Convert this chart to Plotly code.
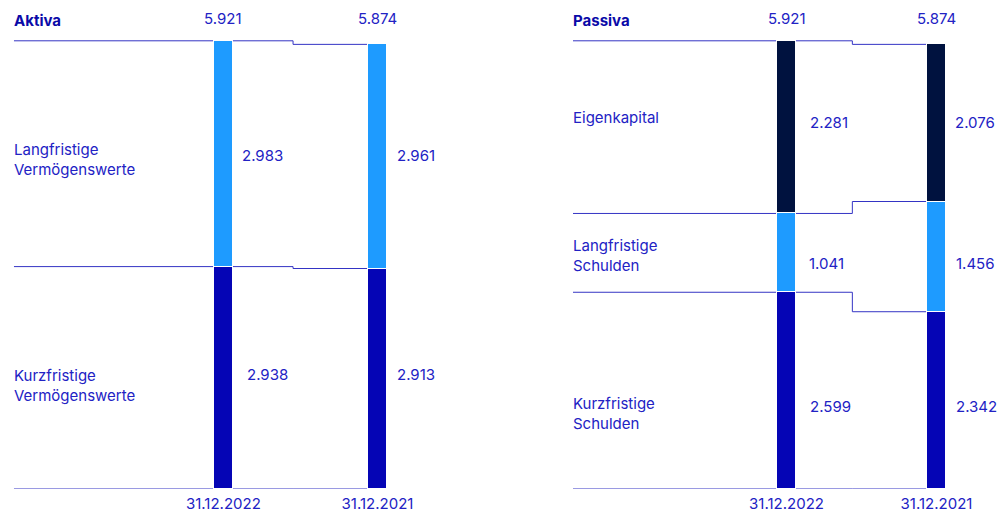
import numpy as np
import plotly.graph_objects as go

# --- data (Mio. EUR) ---
dates = ["31.12.2022", "31.12.2021"]

aktiva_lang = [2983, 2961]    # Langfristige Vermögenswerte
aktiva_kurz = [2938, 2913]    # Kurzfristige Vermögenswerte

passiva_ek = [2281, 2076]     # Eigenkapital
passiva_lang = [1041, 1456]   # Langfristige Schulden
passiva_kurz = [2599, 2342]   # Kurzfristige Schulden

totals = [5921, 5874]


def fmt(v):
    return f"{v:,}".replace(",", ".")


# --- styling ---
FONT = "Inter"
TXT = "#2222C4"
TITLE = "#0A0AA8"
LINE = "#3434C4"
C_LIGHT = "#1E9BFF"
C_DARK = "#0505B5"
C_NAVY = "#00123F"

W, H = 1000, 513
BASE_PX = 489          # baseline row of the plot area
TOP_VAL = 6460         # value at the top edge of the plot area


def py(px):
    """Paper y for a pixel row measured from the top."""
    return (BASE_PX - px) / BASE_PX


fig = go.Figure()

# each segment: label, values, colour, value-label row, name row, value-label x offsets
panels = [
    dict(xa="x", ya="y", bw=0.122, left=-1.359, step=0.452,
         segs=[("Kurzfristige<br>Vermögenswerte", aktiva_kurz, C_DARK, 374, 385, (12, 8)),
               ("Langfristige<br>Vermögenswerte", aktiva_lang, C_LIGHT, 155.7, 160, (7, 8))],
         title="Aktiva", title_x=14),
    dict(xa="x2", ya="y2", bw=0.127, left=-1.4233, step=0.439,
         segs=[("Kurzfristige<br>Schulden", passiva_kurz, C_DARK, 406.7, 413.5, (12, 8)),
               ("Langfristige<br>Schulden", passiva_lang, C_LIGHT, 263.3, 255, (11, 8)),
               ("Eigenkapital", passiva_ek, C_NAVY, 122.3, 117.7, (12, 7))],
         title="Passiva", title_x=573),
]

annotations = []
xpos = [0, 1]

for p in panels:
    xa, ya, bw = p["xa"], p["ya"], p["bw"]
    right = 1 + bw / 2
    xref = xa
    # boundary lines: baseline, each cumulative level
    cum = np.zeros(2)
    levels = [cum.copy()]
    for seg in p["segs"]:
        cum = cum + np.array(seg[1])
        levels.append(cum.copy())
    for lv in levels:
        fig.add_trace(go.Scatter(
            x=[p["left"], p["step"], right], y=[lv[0], lv[1], lv[1]],
            mode="lines", line=dict(color=LINE, width=1, shape="hv"),
            xaxis=xa, yaxis=ya, showlegend=False, hoverinfo="skip",
            cliponaxis=False, zorder=0))
    # stacked bars
    for name, vals, col, vy, ly, shifts in p["segs"]:
        fig.add_trace(go.Bar(
            x=xpos, y=vals, width=bw, marker=dict(color=col, line=dict(color="white", width=1)),
            xaxis=xa, yaxis=ya, showlegend=False, name=name.replace("<br>", " "),
            zorder=1))
        for i, v in enumerate(vals):
            annotations.append(dict(
                x=xpos[i] + bw / 2, xref=xref, y=py(vy), yref="paper",
                text=fmt(v), showarrow=False, xanchor="left", yanchor="middle",
                xshift=shifts[i], font=dict(family=FONT, size=15, color=TXT)))
        annotations.append(dict(
            x=p["title_x"] / W, xref="paper", y=py(ly), yref="paper",
            text=name, showarrow=False, xanchor="left", yanchor="middle", align="left",
            xshift=-2, font=dict(family=FONT, size=15, color=TXT)))
    # header
    annotations.append(dict(
        x=p["title_x"] / W, xref="paper", y=py(20), yref="paper",
        text="<b>" + p["title"] + "</b>", showarrow=False, xanchor="left", yanchor="middle",
        xshift=-2, font=dict(family=FONT, size=15, color=TITLE)))
    for i, t in enumerate(totals):
        annotations.append(dict(
            x=xpos[i], xref=xref, y=py(18), yref="paper",
            text=fmt(t), showarrow=False, xanchor="center", yanchor="middle",
            font=dict(family=FONT, size=15, color=TXT)))

axis_common = dict(showgrid=False, zeroline=False, showline=False, ticks="",
                   tickvals=xpos, ticktext=dates, ticklabelstandoff=4,
                   tickfont=dict(family=FONT, size=15, color=TXT))

fig.update_layout(
    width=W, height=H,
    margin=dict(l=0, r=0, t=0, b=H - BASE_PX),
    paper_bgcolor="white", plot_bgcolor="white",
    barmode="stack", bargap=0,
    xaxis=dict(domain=[0, 0.5], range=[-1.4497, 1.795], **axis_common),
    xaxis2=dict(domain=[0.5, 1], range=[-1.910, 1.4233], **axis_common),
    yaxis=dict(range=[0, TOP_VAL], visible=False),
    yaxis2=dict(range=[0, TOP_VAL], visible=False, anchor="x2"),
    annotations=annotations,
    showlegend=False,
)

fig.write_html("out.html")
